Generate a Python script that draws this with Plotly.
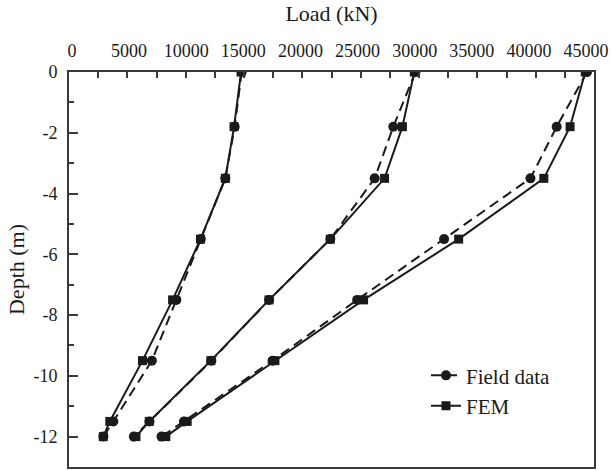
import plotly.graph_objects as go

depth = [0, -1.8, -3.5, -5.5, -7.5, -9.5, -11.5, -12]

field_1 = [14800, 14200, 13400, 11300, 9200, 7100, 3800, 2950]
fem_1 = [14750, 14150, 13400, 11270, 8880, 6300, 3500, 2940]

field_2 = [29700, 27800, 26200, 22400, 17150, 12200, 6900, 5560]
fem_2 = [29600, 28580, 27050, 22400, 17150, 12160, 6880, 5740]

field_3 = [44400, 41800, 39550, 32150, 24700, 17450, 9850, 7930]
fem_3 = [44250, 42950, 40700, 33400, 25250, 17650, 10130, 8300]

x_ticks = [0, 5000, 10000, 15000, 20000, 25000, 30000, 35000, 40000, 45000]
x_ticktext = ["0", "5000", "10000", "15000", "20000", "25000", "30000", "35000", "40000", "45000"]
y_ticks = [0, -2, -4, -6, -8, -10, -12]
y_ticktext = ["0", "-2", "-4", "-6", "-8", "-10", "-12"]

FONT = "Liberation Serif"
INK = "#1a1a1a"
AX = "#3a3a3a"

fig = go.Figure()
groups = [(field_1, fem_1), (field_2, fem_2), (field_3, fem_3)]
for i, (fd, fm) in enumerate(groups):
    fig.add_trace(go.Scatter(
        x=fd, y=depth, mode="lines+markers", name="Field data",
        legendgroup="field", showlegend=(i == 0),
        line=dict(color=INK, width=2, dash="10px,6px"),
        marker=dict(symbol="circle", size=10, color=INK),
    ))
    fig.add_trace(go.Scatter(
        x=fm, y=depth, mode="lines+markers", name="FEM",
        legendgroup="fem", showlegend=(i == 0),
        line=dict(color=INK, width=2),
        marker=dict(symbol="square", size=9, color=INK),
    ))

fig.update_layout(
    width=611, height=471,
    margin=dict(l=69, r=16, t=72, b=2),
    paper_bgcolor="white", plot_bgcolor="white",
    font=dict(family=FONT, color=INK, size=18),
    showlegend=True,
    legend=dict(
        x=0.68, y=0.283, xanchor="left", yanchor="top",
        bgcolor="rgba(0,0,0,0)", font=dict(family=FONT, size=21, color=INK),
        tracegroupgap=0, itemwidth=30,
    ),
    xaxis=dict(
        side="top", range=[0, 45000],
        tickvals=x_ticks, showticklabels=False,
        ticks="inside", ticklen=6, tickwidth=1.5, tickcolor=AX,
        minor=dict(dtick=2500, tick0=0, ticks="inside", ticklen=6, tickwidth=1.5, tickcolor=AX),
        showline=True, linecolor=AX, linewidth=2, mirror=True,
        showgrid=False, zeroline=False,
    ),
    # label-only axis: the printed labels sit on a slightly narrower scale than the ticks
    xaxis2=dict(
        overlaying="x", side="top", anchor="y", range=[-262, 45693],
        tickvals=x_ticks, ticktext=x_ticktext,
        ticks="", showline=False, showgrid=False, zeroline=False,
        tickfont=dict(family=FONT, size=18, color=INK),
        ticklabelstandoff=10, ticklabeloverflow="allow",
        title=dict(text="Load (kN)", font=dict(family=FONT, size=22, color=INK), standoff=13),
    ),
    yaxis=dict(
        range=[-13, 0],
        tickvals=y_ticks, ticktext=y_ticktext,
        ticks="inside", ticklen=9, tickwidth=1.5, tickcolor=AX,
        minor=dict(dtick=1, tick0=0, ticks="inside", ticklen=5, tickwidth=1.5, tickcolor=AX),
        showline=True, linecolor=AX, linewidth=2, mirror=True,
        showgrid=False, zeroline=False,
        tickfont=dict(family=FONT, size=18, color=INK),
        ticklabelstandoff=6,
        title=dict(text="Depth (m)", font=dict(family=FONT, size=22, color=INK), standoff=3),
    ),
)
# an invisible trace keeps the label-only axis drawn
fig.add_trace(go.Scatter(x=[None], y=[None], xaxis="x2", yaxis="y", showlegend=False, hoverinfo="skip"))

fig.write_html("out.html")
